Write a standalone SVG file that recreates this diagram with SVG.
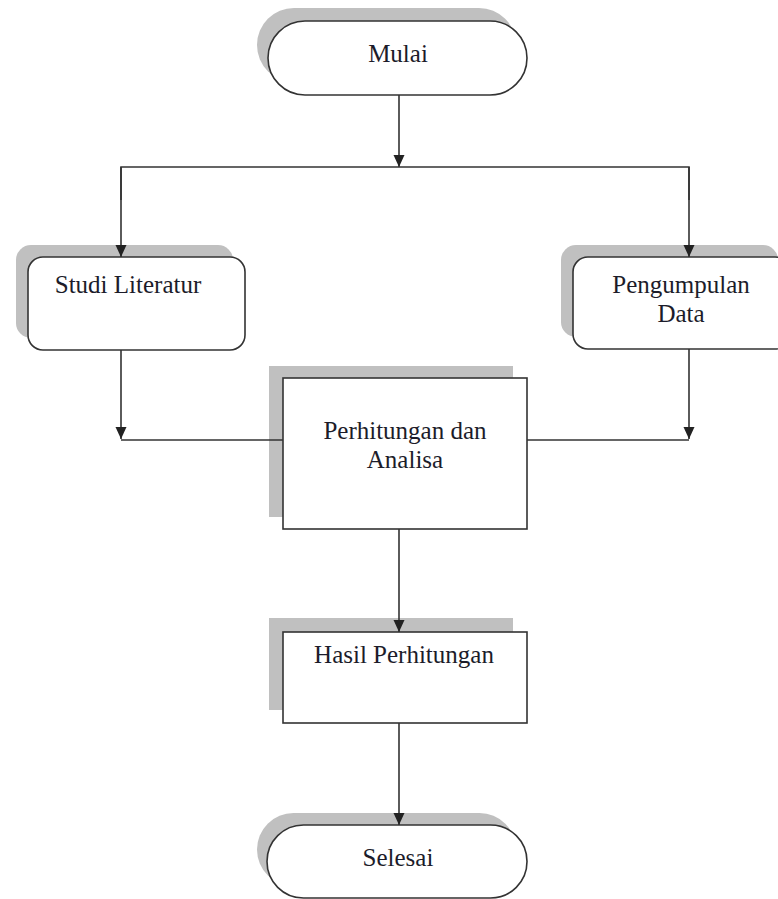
<svg xmlns="http://www.w3.org/2000/svg" width="778" height="899" viewBox="0 0 778 899">
<defs>
<style>
.shadow{fill:#c0c0c0;stroke:none}
.box{fill:#ffffff;stroke:#333333;stroke-width:1.6}
.lbl{font-family:"Liberation Serif","Times New Roman",serif;font-size:25px;fill:#1c1c2a;text-anchor:middle}
.conn{fill:none;stroke:#333333;stroke-width:1.6}
</style>
<marker id="arr" viewBox="0 0 12 12" refX="12" refY="6" markerWidth="12" markerHeight="12" markerUnits="userSpaceOnUse" orient="auto">
<path d="M0,0.5 L12,6 L0,11.5 Z" fill="#222222"/>
</marker>
</defs>
<rect width="778" height="899" fill="#ffffff"/>

<g id="mulai">
<rect class="shadow" x="257" y="8" width="259" height="74" rx="37"/>
<rect class="box" x="268" y="21" width="259" height="74" rx="37"/>
<text class="lbl" x="398" y="62">Mulai</text>
</g>

<g id="studi-literatur">
<rect class="shadow" x="16" y="245" width="217" height="93" rx="15"/>
<rect class="box" x="28" y="257" width="217" height="93" rx="15"/>
<text class="lbl" x="128" y="293">Studi Literatur</text>
</g>

<g id="pengumpulan-data">
<rect class="shadow" x="561" y="245" width="217" height="92" rx="15"/>
<rect class="box" x="573" y="257" width="217" height="92" rx="15"/>
<text class="lbl" x="681" y="293">Pengumpulan</text>
<text class="lbl" x="681" y="322">Data</text>
</g>

<g id="perhitungan-analisa">
<rect class="shadow" x="269" y="366" width="244" height="151"/>
<rect class="box" x="283" y="378" width="244" height="151"/>
<text class="lbl" x="405" y="439">Perhitungan dan</text>
<text class="lbl" x="405" y="468">Analisa</text>
</g>

<g id="hasil-perhitungan">
<rect class="shadow" x="269" y="618" width="244" height="92"/>
<rect class="box" x="283" y="632" width="244" height="91"/>
<text class="lbl" x="404" y="663">Hasil Perhitungan</text>
</g>

<g id="selesai">
<rect class="shadow" x="257" y="813" width="259" height="73" rx="36.5"/>
<rect class="box" x="267" y="825" width="260" height="73" rx="36.5"/>
<text class="lbl" x="398" y="866">Selesai</text>
</g>

<g id="connectors">
<line class="conn" x1="399" y1="95" x2="399" y2="167" marker-end="url(#arr)"/>
<polyline class="conn" points="121,200 121,167 689,167 689,200"/>
<line class="conn" x1="121" y1="167" x2="121" y2="257" marker-end="url(#arr)"/>
<line class="conn" x1="689" y1="167" x2="689" y2="257" marker-end="url(#arr)"/>
<line class="conn" x1="121" y1="350" x2="121" y2="439" marker-end="url(#arr)"/>
<line class="conn" x1="689" y1="349" x2="689" y2="439" marker-end="url(#arr)"/>
<line class="conn" x1="121" y1="440" x2="283" y2="440"/>
<line class="conn" x1="527" y1="440" x2="689" y2="440"/>
<line class="conn" x1="399" y1="529" x2="399" y2="632" marker-end="url(#arr)"/>
<line class="conn" x1="399" y1="723" x2="399" y2="825" marker-end="url(#arr)"/>
</g>
</svg>
